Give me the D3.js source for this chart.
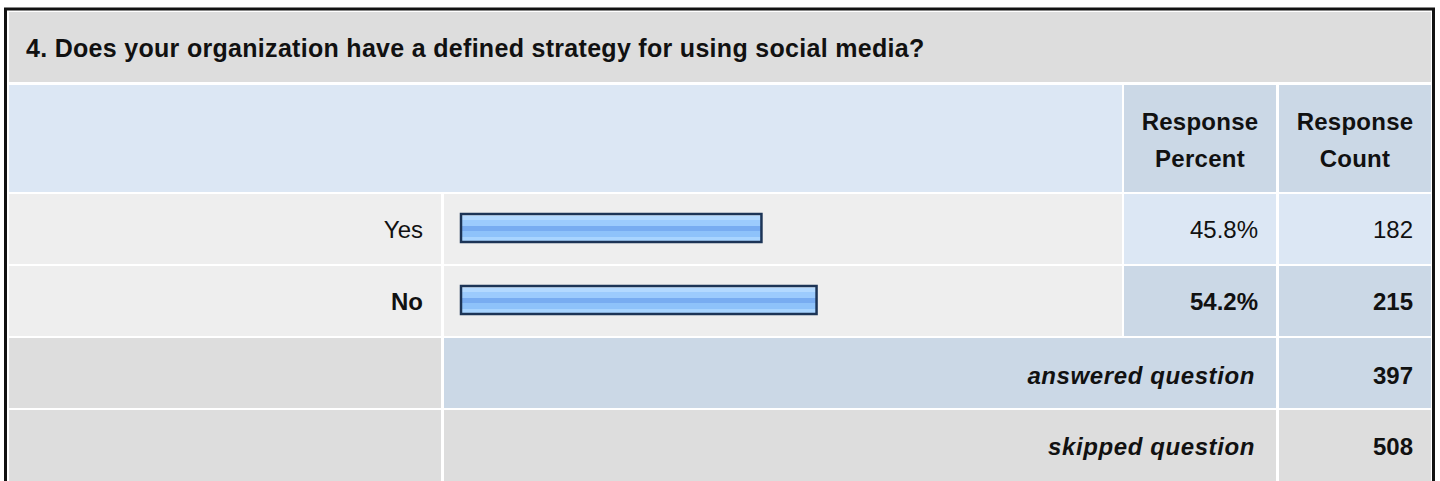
<!DOCTYPE html>
<html>
<head>
<meta charset="utf-8">
<script src="https://cdn.jsdelivr.net/npm/d3@7"></script>
<style>
  body { margin: 0; background: #fff; }
  svg text { font-family: "Liberation Sans", Arial, sans-serif; fill: #111; }
</style>
</head>
<body>
<div id="survey"></div>
<script>
// Data
const question = "4. Does your organization have a defined strategy for using social media?";
const answers = ["Yes", "No"];
const percents = [45.8, 54.2];
const counts = [182, 215];
const colHeads = [["Response", "Percent"], ["Response", "Count"]];
const totalLabels = ["answered question", "skipped question"];
const totalValues = [397, 508];

// Dimensions
const width = 1440;
const height = 481;

// Column edges (label | bar | percent | count)
const cols = [
  { x: 9, w: 432 },
  { x: 444, w: 678 },
  { x: 1124, w: 152 },
  { x: 1279, w: 152 }
];
// Row edges
const titleRow = { y: 12, h: 70 };
const headRow = { y: 85, h: 107 };
const answerRows = [{ y: 194, h: 70 }, { y: 266, h: 70 }];
const totalRows = [{ y: 338, h: 70 }, { y: 410, h: 75 }];

const gray = "#dddddd";
const light = "#eeeeee";
const paleBlue = "#dce7f4";
const midBlue = "#cbd8e6";

const svg = d3.select('#survey')
  .append('svg')
  .attr('width', width)
  .attr('height', height);

// Bar gradient (banded like the original image)
const grad = svg.append('defs').append('linearGradient')
  .attr('id', 'barFill')
  .attr('x1', 0).attr('y1', 0).attr('x2', 0).attr('y2', 1);
[["0%", "#d2e9ff"], ["8%", "#d2e9ff"], ["8%", "#b3d9ff"], ["22%", "#b3d9ff"],
 ["22%", "#9ccbfd"], ["42%", "#9ccbfd"], ["42%", "#78acf1"], ["62%", "#78acf1"],
 ["62%", "#8ec2fa"], ["82%", "#8ec2fa"], ["82%", "#a8d4ff"], ["100%", "#a8d4ff"]]
  .forEach(s => grad.append('stop').attr('offset', s[0]).attr('stop-color', s[1]));

//Outer border
svg.append('rect')
  .attr('x', 5.5).attr('y', 9)
  .attr('width', 1428).attr('height', 500)
  .attr('fill', 'none')
  .attr('stroke', '#111')
  .attr('stroke-width', 3);

// helper for cells
function cell(x, y, w, h, fill) {
  svg.append('rect').attr('x', x).attr('y', y).attr('width', w).attr('height', h).attr('fill', fill);
}
function txt(x, y, s, opts) {
  opts = opts || {};
  return svg.append('text')
    .attr('x', x).attr('y', y)
    .attr('text-anchor', opts.anchor || 'end')
    .style('font-size', (opts.size || 24) + 'px')
    .style('font-weight', opts.bold ? 'bold' : 'normal')
    .style('font-style', opts.italic ? 'italic' : 'normal')
    .style('letter-spacing', (opts.ls || 0) + 'px')
    .text(s);
}

/*** Title ***/
cell(cols[0].x, titleRow.y, cols[3].x + cols[3].w - cols[0].x, titleRow.h, gray);
txt(26, 57, question, { anchor: 'start', bold: true, size: 25, ls: 0.3 });

/*** Column heads ***/
cell(cols[0].x, headRow.y, cols[1].x + cols[1].w - cols[0].x, headRow.h, paleBlue);
colHeads.forEach((lines, i) => {
  const c = cols[i + 2];
  cell(c.x, headRow.y, c.w, headRow.h, midBlue);
  lines.forEach((l, j) => {
    txt(c.x + c.w / 2, 130 + j * 37, l, { anchor: 'middle', bold: true, ls: 0.25 });
  });
});

/*** Answer rows ***/
const x = d3.scaleLinear().domain([0, 100]).range([0, 656]);
const maxIdx = d3.maxIndex(counts);

answers.forEach((a, i) => {
  const r = answerRows[i];
  const top = i === maxIdx;
  const base = r.y + r.h / 2 + 9;
  cell(cols[0].x, r.y, cols[0].w, r.h, light);
  cell(cols[1].x, r.y, cols[1].w, r.h, light);
  cell(cols[2].x, r.y, cols[2].w, r.h, top ? midBlue : paleBlue);
  cell(cols[3].x, r.y, cols[3].w, r.h, top ? midBlue : paleBlue);

  txt(cols[0].x + cols[0].w - 18, base, a, { bold: top });

  // bar
  svg.append('rect')
    .attr('x', cols[1].x + 17)
    .attr('y', r.y + 20)
    .attr('width', x(percents[i]))
    .attr('height', 28)
    .attr('fill', 'url(#barFill)')
    .attr('stroke', '#1c3456')
    .attr('stroke-width', 2.5);

  txt(cols[2].x + cols[2].w - 18, base, d3.format('.1f')(percents[i]) + '%', { bold: top });
  txt(cols[3].x + cols[3].w - 18, base, counts[i], { bold: top });
});

/*** Totals ***/
totalLabels.forEach((l, i) => {
  const r = totalRows[i];
  const fill = i === 0 ? midBlue : gray;
  const base = i === 0 ? 384 : 455;
  cell(cols[0].x, r.y, cols[0].w, r.h, gray);
  cell(cols[1].x, r.y, cols[2].x + cols[2].w - cols[1].x, r.h, fill);
  cell(cols[3].x, r.y, cols[3].w, r.h, fill);
  txt(cols[2].x + cols[2].w - 21, base, l, { bold: true, italic: true, ls: 0.6 });
  txt(cols[3].x + cols[3].w - 18, base, totalValues[i], { bold: true });
});
</script>
</body>
</html>
